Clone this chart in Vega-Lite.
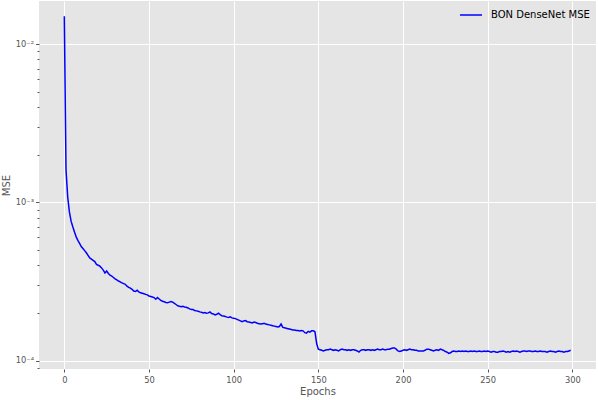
{
  "$schema": "https://vega.github.io/schema/vega-lite/v6.json",
  "width": 557,
  "height": 368,
  "autosize": {"type": "none"},
  "padding": {"left": 39, "top": 1, "right": 2, "bottom": 31},
  "background": "white",
  "config": {
    "view": {"fill": "#E5E5E5", "stroke": null},
    "font": "DejaVu Sans"
  },
  "data": {
    "values": [
      {"epoch": 0, "mse": 0.0150},
      {"epoch": 1, "mse": 0.00160},
      {"epoch": 2, "mse": 0.00108},
      {"epoch": 3, "mse": 0.00087},
      {"epoch": 4, "mse": 0.00076},
      {"epoch": 5, "mse": 0.00070},
      {"epoch": 6, "mse": 0.00065},
      {"epoch": 7, "mse": 0.000605},
      {"epoch": 8, "mse": 0.000575},
      {"epoch": 9, "mse": 0.00055},
      {"epoch": 10, "mse": 0.000525},
      {"epoch": 11, "mse": 0.00051},
      {"epoch": 12, "mse": 0.000495},
      {"epoch": 13, "mse": 0.00048},
      {"epoch": 14, "mse": 0.000462},
      {"epoch": 15, "mse": 0.000445},
      {"epoch": 16, "mse": 0.000438},
      {"epoch": 17, "mse": 0.00043},
      {"epoch": 18, "mse": 0.000422},
      {"epoch": 19, "mse": 0.000405},
      {"epoch": 20, "mse": 0.0004},
      {"epoch": 21, "mse": 0.000395},
      {"epoch": 22, "mse": 0.000385},
      {"epoch": 23, "mse": 0.000373},
      {"epoch": 24, "mse": 0.000358},
      {"epoch": 25, "mse": 0.000368},
      {"epoch": 26, "mse": 0.000355},
      {"epoch": 27, "mse": 0.000347},
      {"epoch": 28, "mse": 0.000342},
      {"epoch": 29, "mse": 0.000335},
      {"epoch": 30, "mse": 0.000328},
      {"epoch": 31, "mse": 0.000323},
      {"epoch": 32, "mse": 0.000318},
      {"epoch": 33, "mse": 0.000314},
      {"epoch": 34, "mse": 0.00031},
      {"epoch": 35, "mse": 0.000306},
      {"epoch": 36, "mse": 0.000303},
      {"epoch": 37, "mse": 0.000295},
      {"epoch": 38, "mse": 0.00029},
      {"epoch": 39, "mse": 0.000287},
      {"epoch": 40, "mse": 0.000282},
      {"epoch": 41, "mse": 0.000275},
      {"epoch": 42, "mse": 0.000273},
      {"epoch": 43, "mse": 0.000278},
      {"epoch": 44, "mse": 0.000272},
      {"epoch": 45, "mse": 0.000268},
      {"epoch": 46, "mse": 0.000266},
      {"epoch": 47, "mse": 0.000264},
      {"epoch": 48, "mse": 0.000262},
      {"epoch": 49, "mse": 0.00026},
      {"epoch": 50, "mse": 0.000256},
      {"epoch": 51, "mse": 0.000254},
      {"epoch": 52, "mse": 0.000252},
      {"epoch": 53, "mse": 0.00025},
      {"epoch": 54, "mse": 0.000244},
      {"epoch": 55, "mse": 0.00025},
      {"epoch": 56, "mse": 0.000245},
      {"epoch": 57, "mse": 0.00024},
      {"epoch": 58, "mse": 0.000237},
      {"epoch": 59, "mse": 0.000235},
      {"epoch": 60, "mse": 0.000233},
      {"epoch": 61, "mse": 0.000232},
      {"epoch": 62, "mse": 0.000234},
      {"epoch": 63, "mse": 0.000236},
      {"epoch": 64, "mse": 0.000234},
      {"epoch": 65, "mse": 0.00023},
      {"epoch": 66, "mse": 0.000226},
      {"epoch": 67, "mse": 0.000222},
      {"epoch": 68, "mse": 0.00022},
      {"epoch": 69, "mse": 0.000219},
      {"epoch": 70, "mse": 0.00022},
      {"epoch": 71, "mse": 0.000218},
      {"epoch": 72, "mse": 0.000217},
      {"epoch": 73, "mse": 0.000215},
      {"epoch": 74, "mse": 0.000212},
      {"epoch": 75, "mse": 0.00021},
      {"epoch": 76, "mse": 0.00021},
      {"epoch": 77, "mse": 0.000207},
      {"epoch": 78, "mse": 0.000206},
      {"epoch": 79, "mse": 0.000205},
      {"epoch": 80, "mse": 0.000203},
      {"epoch": 81, "mse": 0.000202},
      {"epoch": 82, "mse": 0.0002},
      {"epoch": 83, "mse": 0.000201},
      {"epoch": 84, "mse": 0.000199},
      {"epoch": 85, "mse": 0.0002},
      {"epoch": 86, "mse": 0.000203},
      {"epoch": 87, "mse": 0.000198},
      {"epoch": 88, "mse": 0.000197},
      {"epoch": 89, "mse": 0.000194},
      {"epoch": 90, "mse": 0.000196},
      {"epoch": 91, "mse": 0.000199},
      {"epoch": 92, "mse": 0.000195},
      {"epoch": 93, "mse": 0.000192},
      {"epoch": 94, "mse": 0.000191},
      {"epoch": 95, "mse": 0.00019},
      {"epoch": 96, "mse": 0.000188},
      {"epoch": 97, "mse": 0.000187},
      {"epoch": 98, "mse": 0.000189},
      {"epoch": 99, "mse": 0.000186},
      {"epoch": 100, "mse": 0.000185},
      {"epoch": 101, "mse": 0.000184},
      {"epoch": 102, "mse": 0.000182},
      {"epoch": 103, "mse": 0.00018},
      {"epoch": 104, "mse": 0.000178},
      {"epoch": 105, "mse": 0.000176},
      {"epoch": 106, "mse": 0.000178},
      {"epoch": 107, "mse": 0.000179},
      {"epoch": 108, "mse": 0.000176},
      {"epoch": 109, "mse": 0.000175},
      {"epoch": 110, "mse": 0.000174},
      {"epoch": 111, "mse": 0.000173},
      {"epoch": 112, "mse": 0.000175},
      {"epoch": 113, "mse": 0.000174},
      {"epoch": 114, "mse": 0.000172},
      {"epoch": 115, "mse": 0.000171},
      {"epoch": 116, "mse": 0.00017},
      {"epoch": 117, "mse": 0.000171},
      {"epoch": 118, "mse": 0.000172},
      {"epoch": 119, "mse": 0.00017},
      {"epoch": 120, "mse": 0.000169},
      {"epoch": 121, "mse": 0.000168},
      {"epoch": 122, "mse": 0.000167},
      {"epoch": 123, "mse": 0.000166},
      {"epoch": 124, "mse": 0.000165},
      {"epoch": 125, "mse": 0.000164},
      {"epoch": 126, "mse": 0.000163},
      {"epoch": 127, "mse": 0.000164},
      {"epoch": 128, "mse": 0.00017},
      {"epoch": 129, "mse": 0.000162},
      {"epoch": 130, "mse": 0.000161},
      {"epoch": 131, "mse": 0.00016},
      {"epoch": 132, "mse": 0.000159},
      {"epoch": 133, "mse": 0.000158},
      {"epoch": 134, "mse": 0.000157},
      {"epoch": 135, "mse": 0.000156},
      {"epoch": 136, "mse": 0.000156},
      {"epoch": 137, "mse": 0.000155},
      {"epoch": 138, "mse": 0.000155},
      {"epoch": 139, "mse": 0.000154},
      {"epoch": 140, "mse": 0.000155},
      {"epoch": 141, "mse": 0.000154},
      {"epoch": 142, "mse": 0.00015},
      {"epoch": 143, "mse": 0.000149},
      {"epoch": 144, "mse": 0.000153},
      {"epoch": 145, "mse": 0.000151},
      {"epoch": 146, "mse": 0.000154},
      {"epoch": 147, "mse": 0.000154},
      {"epoch": 148, "mse": 0.000152},
      {"epoch": 149, "mse": 0.000128},
      {"epoch": 150, "mse": 0.000118},
      {"epoch": 151, "mse": 0.000117},
      {"epoch": 152, "mse": 0.000116},
      {"epoch": 153, "mse": 0.000115},
      {"epoch": 154, "mse": 0.000116},
      {"epoch": 155, "mse": 0.000117},
      {"epoch": 156, "mse": 0.000117},
      {"epoch": 157, "mse": 0.000118},
      {"epoch": 158, "mse": 0.000117},
      {"epoch": 159, "mse": 0.000116},
      {"epoch": 160, "mse": 0.000117},
      {"epoch": 161, "mse": 0.000116},
      {"epoch": 162, "mse": 0.000115},
      {"epoch": 163, "mse": 0.000117},
      {"epoch": 164, "mse": 0.000118},
      {"epoch": 165, "mse": 0.000117},
      {"epoch": 166, "mse": 0.000117},
      {"epoch": 167, "mse": 0.000116},
      {"epoch": 168, "mse": 0.000117},
      {"epoch": 169, "mse": 0.000116},
      {"epoch": 170, "mse": 0.000117},
      {"epoch": 171, "mse": 0.000117},
      {"epoch": 172, "mse": 0.000116},
      {"epoch": 173, "mse": 0.000115},
      {"epoch": 174, "mse": 0.000113},
      {"epoch": 175, "mse": 0.000116},
      {"epoch": 176, "mse": 0.000117},
      {"epoch": 177, "mse": 0.000117},
      {"epoch": 178, "mse": 0.000116},
      {"epoch": 179, "mse": 0.000117},
      {"epoch": 180, "mse": 0.000117},
      {"epoch": 181, "mse": 0.000116},
      {"epoch": 182, "mse": 0.000117},
      {"epoch": 183, "mse": 0.000116},
      {"epoch": 184, "mse": 0.000117},
      {"epoch": 185, "mse": 0.000118},
      {"epoch": 186, "mse": 0.000117},
      {"epoch": 187, "mse": 0.000117},
      {"epoch": 188, "mse": 0.000118},
      {"epoch": 189, "mse": 0.000117},
      {"epoch": 190, "mse": 0.000117},
      {"epoch": 191, "mse": 0.000118},
      {"epoch": 192, "mse": 0.000118},
      {"epoch": 193, "mse": 0.000119},
      {"epoch": 194, "mse": 0.00012},
      {"epoch": 195, "mse": 0.00012},
      {"epoch": 196, "mse": 0.000118},
      {"epoch": 197, "mse": 0.000115},
      {"epoch": 198, "mse": 0.000114},
      {"epoch": 199, "mse": 0.000115},
      {"epoch": 200, "mse": 0.000116},
      {"epoch": 201, "mse": 0.000117},
      {"epoch": 202, "mse": 0.000116},
      {"epoch": 203, "mse": 0.000117},
      {"epoch": 204, "mse": 0.000118},
      {"epoch": 205, "mse": 0.000117},
      {"epoch": 206, "mse": 0.000117},
      {"epoch": 207, "mse": 0.000116},
      {"epoch": 208, "mse": 0.000116},
      {"epoch": 209, "mse": 0.000115},
      {"epoch": 210, "mse": 0.000115},
      {"epoch": 211, "mse": 0.000115},
      {"epoch": 212, "mse": 0.000115},
      {"epoch": 213, "mse": 0.000116},
      {"epoch": 214, "mse": 0.000118},
      {"epoch": 215, "mse": 0.000118},
      {"epoch": 216, "mse": 0.000117},
      {"epoch": 217, "mse": 0.000116},
      {"epoch": 218, "mse": 0.000115},
      {"epoch": 219, "mse": 0.000116},
      {"epoch": 220, "mse": 0.000117},
      {"epoch": 221, "mse": 0.000116},
      {"epoch": 222, "mse": 0.000118},
      {"epoch": 223, "mse": 0.000117},
      {"epoch": 224, "mse": 0.000116},
      {"epoch": 225, "mse": 0.000114},
      {"epoch": 226, "mse": 0.000113},
      {"epoch": 227, "mse": 0.000111},
      {"epoch": 228, "mse": 0.000112},
      {"epoch": 229, "mse": 0.000114},
      {"epoch": 230, "mse": 0.000115},
      {"epoch": 231, "mse": 0.000114},
      {"epoch": 232, "mse": 0.000114},
      {"epoch": 233, "mse": 0.000115},
      {"epoch": 234, "mse": 0.000114},
      {"epoch": 235, "mse": 0.000115},
      {"epoch": 236, "mse": 0.000114},
      {"epoch": 237, "mse": 0.000115},
      {"epoch": 238, "mse": 0.000114},
      {"epoch": 239, "mse": 0.000114},
      {"epoch": 240, "mse": 0.000115},
      {"epoch": 241, "mse": 0.000114},
      {"epoch": 242, "mse": 0.000115},
      {"epoch": 243, "mse": 0.000114},
      {"epoch": 244, "mse": 0.000114},
      {"epoch": 245, "mse": 0.000115},
      {"epoch": 246, "mse": 0.000114},
      {"epoch": 247, "mse": 0.000114},
      {"epoch": 248, "mse": 0.000115},
      {"epoch": 249, "mse": 0.000114},
      {"epoch": 250, "mse": 0.000115},
      {"epoch": 251, "mse": 0.000114},
      {"epoch": 252, "mse": 0.000113},
      {"epoch": 253, "mse": 0.000114},
      {"epoch": 254, "mse": 0.000114},
      {"epoch": 255, "mse": 0.000113},
      {"epoch": 256, "mse": 0.000113},
      {"epoch": 257, "mse": 0.000114},
      {"epoch": 258, "mse": 0.000114},
      {"epoch": 259, "mse": 0.000115},
      {"epoch": 260, "mse": 0.000114},
      {"epoch": 261, "mse": 0.000113},
      {"epoch": 262, "mse": 0.000114},
      {"epoch": 263, "mse": 0.000113},
      {"epoch": 264, "mse": 0.000114},
      {"epoch": 265, "mse": 0.000115},
      {"epoch": 266, "mse": 0.000114},
      {"epoch": 267, "mse": 0.000115},
      {"epoch": 268, "mse": 0.000114},
      {"epoch": 269, "mse": 0.000113},
      {"epoch": 270, "mse": 0.000114},
      {"epoch": 271, "mse": 0.000115},
      {"epoch": 272, "mse": 0.000115},
      {"epoch": 273, "mse": 0.000114},
      {"epoch": 274, "mse": 0.000115},
      {"epoch": 275, "mse": 0.000115},
      {"epoch": 276, "mse": 0.000114},
      {"epoch": 277, "mse": 0.000114},
      {"epoch": 278, "mse": 0.000115},
      {"epoch": 279, "mse": 0.000114},
      {"epoch": 280, "mse": 0.000114},
      {"epoch": 281, "mse": 0.000115},
      {"epoch": 282, "mse": 0.000114},
      {"epoch": 283, "mse": 0.000114},
      {"epoch": 284, "mse": 0.000114},
      {"epoch": 285, "mse": 0.000113},
      {"epoch": 286, "mse": 0.000114},
      {"epoch": 287, "mse": 0.000115},
      {"epoch": 288, "mse": 0.000114},
      {"epoch": 289, "mse": 0.000114},
      {"epoch": 290, "mse": 0.000113},
      {"epoch": 291, "mse": 0.000114},
      {"epoch": 292, "mse": 0.000115},
      {"epoch": 293, "mse": 0.000114},
      {"epoch": 294, "mse": 0.000114},
      {"epoch": 295, "mse": 0.000113},
      {"epoch": 296, "mse": 0.000114},
      {"epoch": 297, "mse": 0.000114},
      {"epoch": 298, "mse": 0.000115},
      {"epoch": 299, "mse": 0.000116}
    ]
  },
  "transform": [{"calculate": "'BON DenseNet MSE'", "as": "series"}],
  "mark": {"type": "line", "strokeWidth": 1.5, "clip": true},
  "encoding": {
    "x": {
      "field": "epoch",
      "type": "quantitative",
      "scale": {"domain": [-14.95, 313.95], "nice": false, "zero": false},
      "axis": {
        "title": "Epochs",
        "titleFontSize": 10,
        "titleFontWeight": "normal",
        "titleColor": "#555555",
        "titlePadding": 3,
        "values": [0, 50, 100, 150, 200, 250, 300],
        "labelFontSize": 8.3,
        "labelColor": "#555555",
        "labelPadding": 3,
        "tickColor": "#555555",
        "tickSize": 3,
        "domain": false,
        "grid": true,
        "gridColor": "#FFFFFF",
        "gridWidth": 1
      }
    },
    "y": {
      "field": "mse",
      "type": "quantitative",
      "scale": {"type": "log", "domain": [0.0000884, 0.01873], "nice": false},
      "axis": {
        "title": "MSE",
        "titleFontSize": 10,
        "titleFontWeight": "normal",
        "titleColor": "#555555",
        "titlePadding": 4,
        "values": [0.00009, 0.0001, 0.0002, 0.0003, 0.0004, 0.0005, 0.0006, 0.0007, 0.0008, 0.0009, 0.001, 0.002, 0.003, 0.004, 0.005, 0.006, 0.007, 0.008, 0.009, 0.01],
        "labelExpr": "abs(log(datum.value)/LN10 - round(log(datum.value)/LN10)) < 0.000001 ? (round(log(datum.value)/LN10) == -2 ? '10⁻²' : round(log(datum.value)/LN10) == -3 ? '10⁻³' : '10⁻⁴') : ''",
        "labelFontSize": 8.3,
        "labelColor": "#555555",
        "labelPadding": 2,
        "tickColor": "#555555",
        "tickSize": {"condition": {"test": "abs(log(datum.value)/LN10 - round(log(datum.value)/LN10)) < 0.000001", "value": 3.5}, "value": 2},
        "domain": false,
        "grid": true,
        "gridColor": "#FFFFFF",
        "gridWidth": 1,
        "gridOpacity": {"condition": {"test": "abs(log(datum.value)/LN10 - round(log(datum.value)/LN10)) < 0.000001", "value": 1}, "value": 0}
      }
    },
    "color": {
      "field": "series",
      "type": "nominal",
      "scale": {"domain": ["BON DenseNet MSE"], "range": ["#0000FF"]},
      "legend": {
        "title": null,
        "orient": "none",
        "legendX": 420,
        "legendY": 2,
        "padding": 0,
        "symbolType": "stroke",
        "symbolSize": 484,
        "symbolStrokeWidth": 1.5,
        "labelFontSize": 10,
        "labelColor": "#000000",
        "labelOffset": 8
      }
    }
  }
}
